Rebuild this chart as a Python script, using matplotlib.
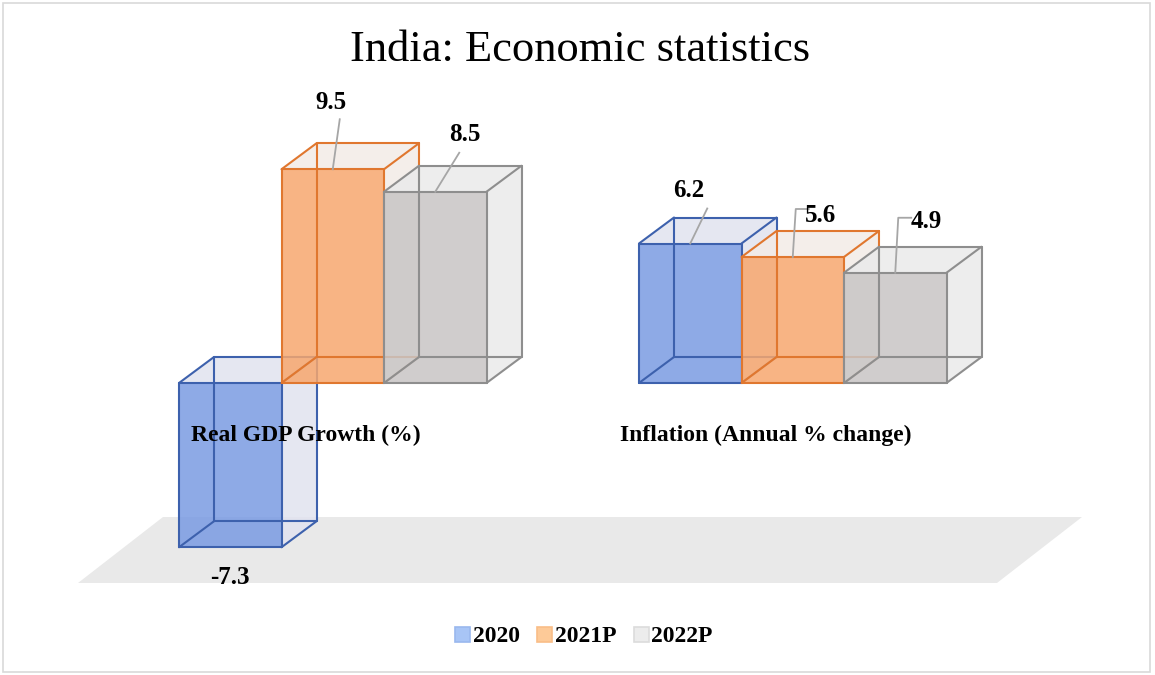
import numpy as np
import matplotlib.pyplot as plt
from matplotlib.patches import Polygon, Patch, Rectangle

plt.rcParams['font.family'] = ['Liberation Serif', 'DejaVu Serif']

# data
categories = ["Real GDP Growth (%)", "Inflation (Annual % change)"]
series = ["2020", "2021P", "2022P"]
values_2020 = [-7.3, 6.2]
values_2021p = [9.5, 5.6]
values_2022p = [8.5, 4.9]
all_values = [values_2020, values_2021p, values_2022p]

# colours per series: front, side/top, edge, legend face, legend edge
front_cols = ["#7a9be2", "#f7a76e", "#c8c5c5"]
side_cols = ["#e1e3ef", "#f3ebe7", "#eaeaea"]
edge_cols = ["#3d61ad", "#e0772f", "#8e8e8e"]
leg_face = ["#a8c5f6", "#fdca98", "#ececec"]
leg_edge = ["#9ab8ee", "#f9bd88", "#dcdcdc"]

# layout (pixels on x, value units on y)
PPU = 22.5                 # pixels per value unit
group_left = [179, 639]
BAR_W = 102.5
DX = 35
DY = 26 / PPU

# label offsets in pixels from the bar's outer face centre (x right, y down)
label_off = [[(0, 30), (-1, -53)],
             [(-2, -67), (28, -42)],
             [(30, -57), (31, -51)]]
# leader line points, relative to the label centre, in pixels (None = no leader)
leader_pts = [[None, [(18, 18)]],
              [[(9, 17)], [(-25, -6), (-12, -6)]],
              [[(-6, 18)], [(-28, -4), (-15, -4)]]]

fig = plt.figure(figsize=(11.55, 6.75), dpi=100)
ax = fig.add_axes([0, 0, 1, 1])
ax.set_xlim(0, 1155)
ax.set_ylim(-(675 - 383) / PPU, 383 / PPU)
ax.axis('off')

# outer border
fig.patches.append(Rectangle((3 / 1155, 3 / 675), 1147 / 1155, 669 / 675,
                             transform=fig.transFigure, fill=False,
                             edgecolor="#d9d9d9", lw=1.2))

# floor
fl_front = -200 / PPU
fl_back = fl_front + 66 / PPU
ax.add_patch(Polygon([(78, fl_front), (997, fl_front), (1082, fl_back), (163, fl_back)],
                     closed=True, facecolor="#e9e9e9", edgecolor="none", zorder=0))


def draw_box(x0, v, s, z):
    b, t = min(0, v), max(0, v)
    F = [(x0, b), (x0 + BAR_W, b), (x0 + BAR_W, t), (x0, t)]
    B = [(x + DX, y + DY) for x, y in F]
    faces = [([F[1], F[2], B[2], B[1]], side_cols[s], 0.85),
             ([F[3], F[2], B[2], B[3]], side_cols[s], 0.85),
             (F, front_cols[s], 0.85)]
    for pts, col, a in faces:
        ax.add_patch(Polygon(pts, closed=True, facecolor=col, alpha=a,
                             edgecolor="none", zorder=z))
    edges = []
    for i in range(4):
        edges.append((F[i], F[(i + 1) % 4]))
        edges.append((B[i], B[(i + 1) % 4]))
        edges.append((F[i], B[i]))
    for p, q in edges:
        ax.plot([p[0], q[0]], [p[1], q[1]], color=edge_cols[s], lw=1.5,
                zorder=z + 0.5, solid_capstyle='round')


z = 2
for s, vals in enumerate(all_values):
    for g, v in enumerate(vals):
        x0 = group_left[g] + s * BAR_W
        draw_box(x0, v, s, z)
        z += 1

# value labels
for s, vals in enumerate(all_values):
    for g, v in enumerate(vals):
        cx = group_left[g] + s * BAR_W + BAR_W / 2
        cy = v
        ox, oy = label_off[s][g]
        lx, ly = cx + ox, cy - oy / PPU
        ax.text(lx, ly, f"{v:.1f}", ha='center', va='center', fontsize=18,
                fontweight='bold', zorder=50)
        if leader_pts[s][g] is not None:
            xs = [cx] + [lx + px for px, py in leader_pts[s][g]]
            ys = [cy] + [ly - py / PPU for px, py in leader_pts[s][g]]
            ax.plot(xs, ys, color="#a6a6a6", lw=1.3, zorder=49)

# category labels
for g, cat in enumerate(categories):
    ax.text(group_left[g] + 1.5 * BAR_W - 27, -52 / PPU, cat, ha='center', va='center',
            fontsize=17, fontweight='bold', zorder=60)

# title
ax.text(580, 333 / PPU, "India: Economic statistics", ha='center', va='center',
        fontsize=32)

handles = [Patch(facecolor=leg_face[i], edgecolor=leg_edge[i], lw=1.2, label=series[i])
           for i in range(3)]
ax.legend(handles=handles, loc='center', bbox_to_anchor=(584 / 1155, 38 / 675), ncol=3,
          frameon=False, handlelength=0.62, handleheight=0.62, handletextpad=0.12,
          columnspacing=0.75, prop={'weight': 'bold', 'size': 17})

fig.savefig("out.png", dpi=100)
